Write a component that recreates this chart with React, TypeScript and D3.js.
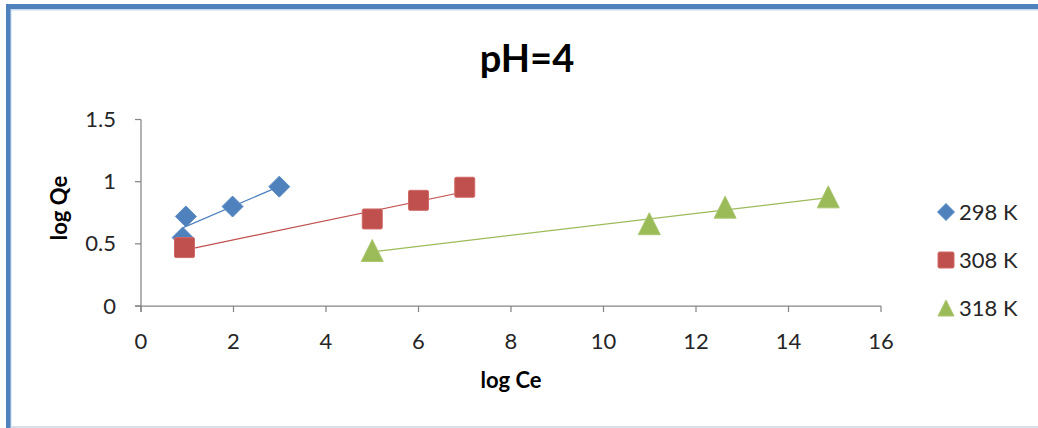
import React from "react";
import * as d3 from "d3";

// Freundlich plot at pH = 4: log Qe against log Ce for three temperatures
const seriesNames = ["298 K", "308 K", "318 K"];
const logCe298 = [0.9, 0.97, 1.98, 2.99];
const logQe298 = [0.55, 0.72, 0.8, 0.96];
const logCe308 = [0.94, 5.0, 6.0, 7.0];
const logQe308 = [0.47, 0.7, 0.85, 0.955];
const logCe318 = [5.0, 10.99, 12.63, 14.86];
const logQe318 = [0.446, 0.662, 0.795, 0.878];
const xTicks = [0, 2, 4, 6, 8, 10, 12, 14, 16];
const yTicks = [0, 0.5, 1, 1.5];

const W = 1038;
const H = 428;
const FONT = "Lato, 'Open Sans', sans-serif";

const colors = ["#4f81bd", "#c0504d", "#9bbb59"];
const edge = ["#5b8cc8", "#cf6a67", "#a9c66d"];

type Pt = { x: number; y: number };

function fit(pts: Pt[]): [Pt, Pt] {
  const mx = d3.mean(pts, (p) => p.x)!;
  const my = d3.mean(pts, (p) => p.y)!;
  const sxy = d3.sum(pts, (p) => (p.x - mx) * (p.y - my));
  const sxx = d3.sum(pts, (p) => (p.x - mx) ** 2);
  const b = sxy / sxx;
  const a = my - b * mx;
  const [x0, x1] = d3.extent(pts, (p) => p.x) as [number, number];
  return [
    { x: x0, y: a + b * x0 },
    { x: x1, y: a + b * x1 },
  ];
}

export default function App() {
  const x = d3.scaleLinear().domain([0, 16]).range([141, 881]);
  const y = d3.scaleLinear().domain([0, 1.5]).range([306, 119.5]);

  const data: Pt[][] = [
    logCe298.map((v, i) => ({ x: v, y: logQe298[i] })),
    logCe308.map((v, i) => ({ x: v, y: logQe308[i] })),
    logCe318.map((v, i) => ({ x: v, y: logQe318[i] })),
  ];

  const line = d3
    .line<Pt>()
    .x((p) => x(p.x))
    .y((p) => y(p.y));

  const marker = (k: number, cx: number, cy: number, s: number, key: string) => {
    if (k === 0) {
      const r = s / 2;
      return (
        <path
          key={key}
          d={`M${cx},${cy - r}L${cx + r},${cy}L${cx},${cy + r}L${cx - r},${cy}Z`}
          fill={colors[0]}
          stroke={edge[0]}
          strokeWidth={1}
        />
      );
    }
    if (k === 1) {
      return (
        <rect
          key={key}
          x={cx - s / 2}
          y={cy - s / 2}
          width={s}
          height={s}
          rx={1.5}
          fill={colors[1]}
          stroke={edge[1]}
          strokeWidth={1}
        />
      );
    }
    const h = s;
    return (
      <path
        key={key}
        d={`M${cx},${cy - h / 2}L${cx + s / 2},${cy + h / 2}L${cx - s / 2},${cy + h / 2}Z`}
        fill={colors[2]}
        stroke={edge[2]}
        strokeWidth={1}
      />
    );
  };

  const markerSize = [21, 20, 22];
  const legendY = [212, 260, 308];

  return (
    <svg
      width={W}
      height={H}
      style={{ position: "absolute", left: 0, top: 0, background: "#fff" }}
      fontFamily={FONT}
    >
      {/* frame */}
      <rect x={10} y={9} width={W - 10} height={1.5} fill="#c6d9f0" />
      <rect x={10} y={9} width={1.5} height={H - 9} fill="#c6d9f0" />
      <rect x={10} y={H - 2} width={W - 10} height={2} fill="#d9dfea" />
      <rect x={6} y={4} width={W - 6} height={5} fill="#4f81bd" />
      <rect x={6} y={4} width={4.5} height={H - 4} fill="#4f81bd" />

      {/* title */}
      <text x={527} y={72} textAnchor="middle" fontSize={38} fontWeight={700} fill="#000">
        pH=4
      </text>

      {/* axes */}
      <g stroke="#868686" strokeWidth={1.25} fill="none">
        <line x1={x(0)} x2={x(0)} y1={y(1.5)} y2={y(0) + 6} />
        <line x1={x(0) - 6} x2={x(16)} y1={y(0)} y2={y(0)} />
        {yTicks.map((t) => (
          <line key={"yt" + t} x1={x(0) - 6} x2={x(0)} y1={y(t)} y2={y(t)} />
        ))}
        {xTicks.map((t) => (
          <line key={"xt" + t} x1={x(t)} x2={x(t)} y1={y(0)} y2={y(0) + 6} />
        ))}
      </g>
      {yTicks.map((t) => (
        <text
          key={"yl" + t}
          x={116}
          y={y(t) + 7.5}
          textAnchor="end"
          fontSize={22}
          fill="#262626"
        >
          {String(t)}
        </text>
      ))}
      {xTicks.map((t) => (
        <text
          key={"xl" + t}
          x={x(t)}
          y={349}
          textAnchor="middle"
          fontSize={22}
          fill="#262626"
        >
          {String(t)}
        </text>
      ))}

      {/* axis titles */}
      <text x={511} y={388} textAnchor="middle" fontSize={22} fontWeight={700} fill="#000">
        log Ce
      </text>
      <text
        transform="translate(67,208) rotate(-90)"
        textAnchor="middle"
        fontSize={22}
        fontWeight={700}
        fill="#000"
      >
        log Qe
      </text>

      {/* trend lines */}
      {data.map((pts, k) => (
        <path
          key={"tr" + k}
          d={line(fit(pts)) || ""}
          fill="none"
          stroke={colors[k]}
          strokeWidth={1.25}
        />
      ))}

      {/* markers */}
      {data.map((pts, k) =>
        pts.map((p, i) => marker(k, x(p.x), y(p.y), markerSize[k], `m${k}-${i}`))
      )}

      {/* legend */}
      {seriesNames.map((name, k) => (
        <g key={"lg" + k}>
          {marker(k, 946, legendY[k], k === 0 ? 17 : 16, "lm" + k)}
          <text x={959} y={legendY[k] + 8} fontSize={22} fill="#262626">
            {name}
          </text>
        </g>
      ))}
    </svg>
  );
}
